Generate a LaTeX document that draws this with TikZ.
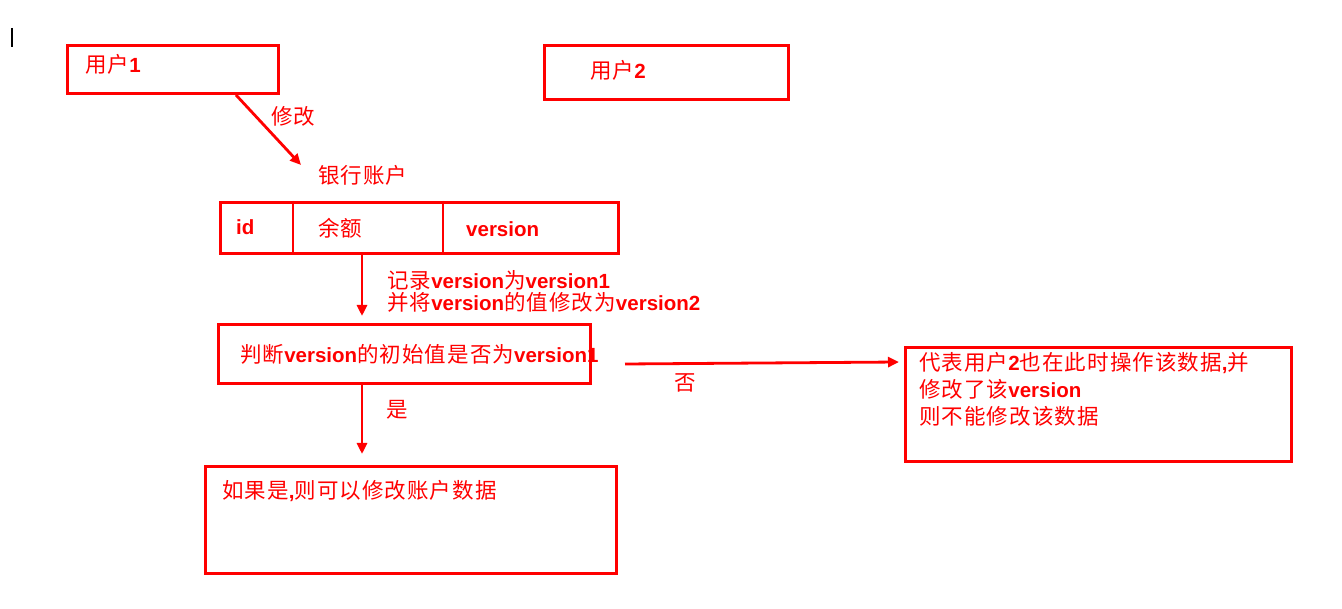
\documentclass[tikz,border=0pt]{standalone}
\usepackage{fontspec}
\setmainfont{Liberation Sans}
\newfontfamily\cjk[LetterSpace=5]{Noto Sans CJK SC}
\usetikzlibrary{arrows.meta}
\newcommand\zh[1]{{\cjk\fontsize{21.5}{23}\selectfont #1}}
\newcommand\lt[1]{{\fontsize{20.5}{23}\selectfont\bfseries #1}}
\tikzset{
  box/.style={draw=red, line width=2.8pt, rectangle, anchor=north west, inner sep=0pt},
  txt/.style={text=red, anchor=west, inner sep=0pt, font=\fontsize{20}{22}\selectfont, align=left},
  conn/.style={draw=red, line width=2.8pt, -{Triangle[length=11pt,width=10pt]}},
}
\begin{document}
\begin{tikzpicture}[x=1pt,y=-1pt]
\useasboundingbox (0,0) rectangle (1342,609);
% cursor mark
\draw[black, line width=1.5pt] (12,28) -- (12,47);
% user 1
\node[box, minimum width=211pt, minimum height=48pt] (u1) at (66,44) {};
\node[txt] (u1t) at (85,64) {\zh{用户}\lt{1}};
% user 2
\node[box, minimum width=244pt, minimum height=54pt] (u2) at (543,44) {};
\node[txt] (u2t) at (590,70) {\zh{用户}\lt{2}};
% account label
\node[txt] (acct) at (318,175) {\zh{银行账户}};
% table
\node[box, minimum width=398pt, minimum height=51pt] (tbl) at (219,201) {};
\draw[red, line width=2.8pt] (tbl.north west) ++(74,0) coordinate (d1t) -- ++(0,51) coordinate (d1b);
\draw[red, line width=2.8pt] (tbl.north west) ++(224,0) coordinate (d2t) -- ++(0,51) coordinate (d2b);
\node[txt] (cid) at (236,227) {\lt{id}};
\node[txt] (cbal) at (318,228) {\zh{余额}};
\node[txt] (cver) at (466,229) {\lt{version}};
% arrow user1 -> account
\coordinate (a1s) at (236,95);
\coordinate (a1e) at (301,165);
\draw[conn] (a1s) -- (a1e);
\node[txt] (lmod) at (271,116) {\zh{修改}};
% judge box
\node[box, minimum width=372pt, minimum height=59pt] (judge) at (217,323) {};
\node[txt] (judget) at (240,354) {\zh{判断}\lt{version}\zh{的初始值是否为}\lt{version1}};
% arrow table -> judge
\coordinate (a2s) at (362,254);
\coordinate (a2e) at (362,316);
\draw[conn] (a2s) -- (a2e);
\node[txt, anchor=north west] (lrec) at (387,270) {\zh{记录}\lt{version}\zh{为}\lt{version1}\\[0pt]\zh{并将}\lt{version}\zh{的值修改为}\lt{version2}};
% yes box
\node[box, minimum width=411pt, minimum height=107pt] (yes) at (204,465) {};
\node[txt] (yest) at (222,491) {\zh{如果是}\lt{,}\zh{则可以修改账户数据}};
\coordinate (a3s) at (362,384);
\coordinate (a3e) at (362,454);
\draw[conn] (a3s) -- (a3e);
\node[txt] (lyes) at (386,410) {\zh{是}};
% no box
\node[box, minimum width=386pt, minimum height=114pt] (no) at (904,346) {};
\node[txt, anchor=north west] (not) at (919,352) {\zh{代表用户}\lt{2}\zh{也在此时操作该数据}\lt{,}\zh{并}\\[5pt]\zh{修改了该}\lt{version}\\[5pt]\zh{则不能修改该数据}};
\coordinate (a4s) at (625,364);
\coordinate (a4e) at (899,362);
\draw[conn] (a4s) -- (a4e);
\node[txt] (lno) at (674,383) {\zh{否}};
\end{tikzpicture}
\end{document}
